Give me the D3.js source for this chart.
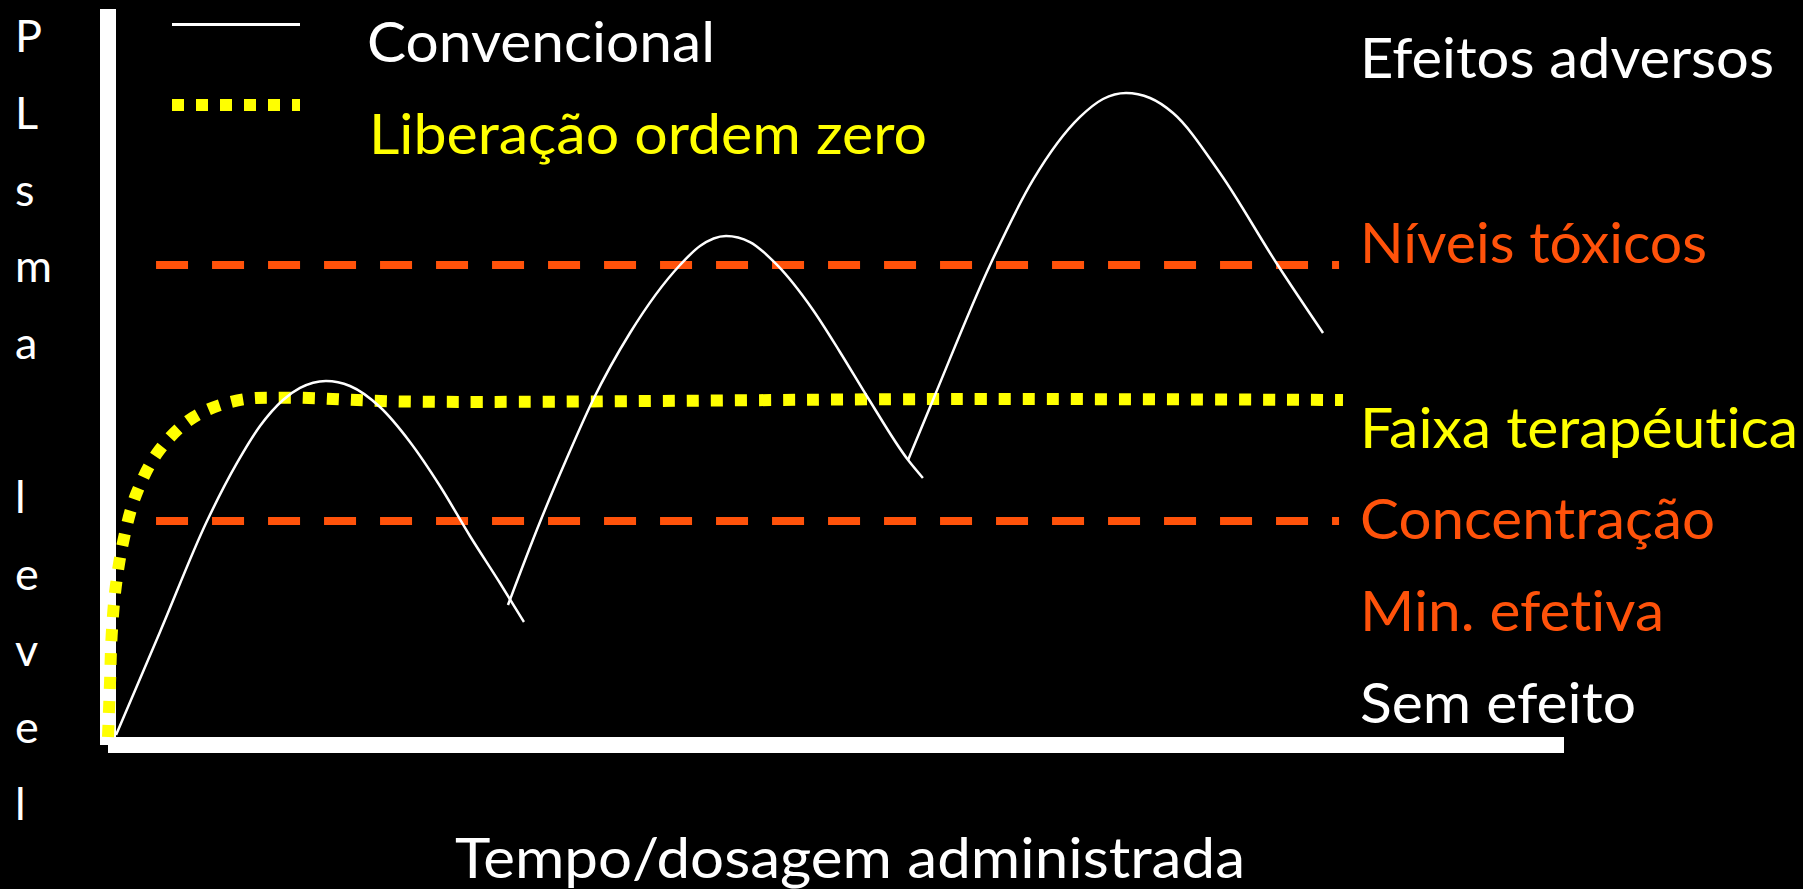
<!DOCTYPE html>
<html>
<head>
	<meta charset="utf-8">
	<title>Liberação ordem zero</title>
	<script src="https://d3js.org/d3.v7.min.js"></script>
	<style>
		body { margin: 0; background: #000; }
		text { font-family: Lato, "Open Sans", sans-serif; font-variant-ligatures: none; }
	</style>
</head>
<body>
	<div id="my_dataviz"></div>
	<script>
	// convencional: three doses, [tempo, concentração]
	var dose1 = [[0.55,1.36],[3.57,15.35],[6.80,30.43],[8.86,38.32],[10.44,43.34],[12.02,46.88],[13.19,48.51],
	             [14.97,49.46],[16.62,48.78],[18.68,45.92],[20.74,41.17],[22.80,35.19],[24.86,28.40],[26.92,22.01],[28.57,16.71]]
	var dose2 = [[27.47,19.02],[29.67,30.30],[31.46,38.72],[33.31,46.88],[35.85,55.98],[39.29,65.22],[40.66,67.80],
	             [42.45,69.16],[44.09,68.34],[45.95,65.22],[48.42,59.10],[50.27,53.40],[52.20,47.15],[54.95,38.72],[55.97,36.28]]
	var dose3 = [[54.95,38.72],[56.66,46.88],[60.58,65.22],[63.53,76.77],[66.76,85.33],[68.34,87.77],
	             [69.92,88.59],[71.57,87.91],[73.15,85.87],[76.37,77.72],[80.29,65.35],[83.45,55.98]]

	// liberação ordem zero
	var ordemZero = [[0,1.09],[0.14,8.56],[0.25,14.85],[0.53,21.47],[1.08,27.99],[1.94,34.10],[3.50,39.99],
	                 [5.86,44.52],[8.91,46.83],[12.23,47.19],[20.40,46.67],[58.52,47.01],[84.82,46.88]]

	// níveis de referência (tóxico, mínima efetiva) and their extent in time
	var niveis = [65.22, 30.43]
	var niveisTempo = [3.3, 84.55]

	var legendLabels = ["Convencional", "Liberação ordem zero"]
	var zoneLabels = ["Efeitos adversos", "Níveis tóxicos", "Faixa terapéutica", "Concentração", "Min. efetiva", "Sem efeito"]
	var yLetters = ["P","L","s","m","a","","l","e","v","e","l"]
	var xTitle = "Tempo/dosagem administrada"

	var W = 1803, H = 889
	var orange = "#ff520a", yellow = "#ffff00"

	var svg = d3.select("#my_dataviz")
	  .append("svg")
	    .attr("width", W)
	    .attr("height", H)
	    .style("display", "block")
	    .style("background", "#000")

	var x = d3.scaleLinear().domain([0, 100]).range([108, 1564])
	var y = d3.scaleLinear().domain([0, 100]).range([745, 9])

	// thick white axes, no ticks
	svg.append("g")
	    .attr("transform", "translate(108,0)")
	    .call(d3.axisLeft(y).tickValues([]).tickSizeOuter(0).offset(0))
	svg.append("g")
	    .attr("transform", "translate(0,745)")
	    .call(d3.axisBottom(x).tickValues([]).tickSizeOuter(0).offset(0))
	svg.selectAll(".domain")
	    .attr("stroke", "#fff")
	    .attr("stroke-width", 16)

	// reference levels
	svg.append("g")
	  .selectAll("line")
	  .data(niveis)
	  .enter()
	  .append("line")
	    .attr("x1", x(niveisTempo[0]))
	    .attr("x2", x(niveisTempo[1]))
	    .attr("y1", function(d) { return y(d) })
	    .attr("y2", function(d) { return y(d) })
	    .attr("stroke", orange)
	    .attr("stroke-width", 8)
	    .attr("stroke-dasharray", "32 24")

	var zeroLine = d3.line()
	    .x(function(d) { return x(d[0]) })
	    .y(function(d) { return y(d[1]) })
	    .curve(d3.curveCatmullRom.alpha(0.5))

	var doseLine = d3.line()
	    .x(function(d) { return x(d[0]) })
	    .y(function(d) { return y(d[1]) })
	    .curve(d3.curveMonotoneX)

	svg.append("path")
	    .datum(ordemZero)
	    .attr("d", zeroLine)
	    .attr("fill", "none")
	    .attr("stroke", yellow)
	    .attr("stroke-width", 12)
	    .attr("stroke-dasharray", "12 12")

	svg.append("g")
	  .selectAll("path")
	  .data([dose1, dose2, dose3])
	  .enter()
	  .append("path")
	    .attr("d", doseLine)
	    .attr("fill", "none")
	    .attr("stroke", "#fff")
	    .attr("stroke-width", 2.5)

	// legend
	svg.append("line")
	    .attr("x1", 172).attr("x2", 300).attr("y1", 24.5).attr("y2", 24.5)
	    .attr("stroke", "#fff").attr("stroke-width", 3)
	svg.append("line")
	    .attr("x1", 172).attr("x2", 300).attr("y1", 105).attr("y2", 105)
	    .attr("stroke", yellow).attr("stroke-width", 12).attr("stroke-dasharray", "12 12")

	function label(txt, px, py, size, color, len) {
	  var t = svg.append("text")
	      .attr("x", px)
	      .attr("y", py)
	      .attr("font-size", size)
	      .attr("fill", color)
	      .text(txt)
	  if (len) t.attr("textLength", len).attr("lengthAdjust", "spacingAndGlyphs")
	  return t
	}

	label(legendLabels[0], 367, 62, 57, "#fff", 348)
	label(legendLabels[1], 369, 154, 57, yellow, 558)

	var zoneY = [78, 263, 448, 539, 631, 723]
	var zoneW = [414, 347, 438, 355, 304, 276]
	var zoneC = ["#fff", orange, yellow, orange, orange, "#fff"]
	zoneLabels.forEach(function(s, i) {
	  label(s, 1360, zoneY[i], 57, zoneC[i], zoneW[i])
	})

	label(xTitle, 455, 878, 57, "#fff", 790)

	// vertical axis title, one letter per line
	yLetters.forEach(function(s, i) {
	  label(s, 15, 52 + i * 76.8, 45, "#fff")
	})
	</script>
</body>
</html>
